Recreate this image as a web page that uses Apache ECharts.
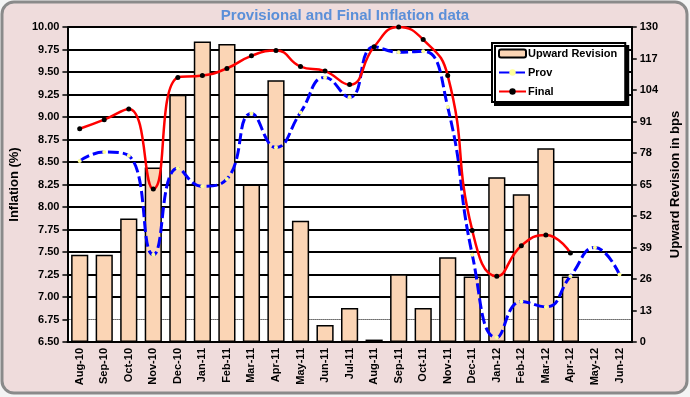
<!DOCTYPE html>
<html>
<head>
<meta charset="utf-8">
<script src="https://cdn.jsdelivr.net/npm/echarts@6/dist/echarts.min.js"></script>
<style>
  html, body { margin: 0; padding: 0; background: #f4f4f4; }
  #chart { width: 690px; height: 397px; }
</style>
</head>
<body>
<div id="chart"></div>
<script>
// 月份（横轴）
const months = ['Aug-10','Sep-10','Oct-10','Nov-10','Dec-10','Jan-11','Feb-11','Mar-11','Apr-11','May-11','Jun-11','Jul-11',
                'Aug-11','Sep-11','Oct-11','Nov-11','Dec-11','Jan-12','Feb-12','Mar-12','Apr-12','May-12','Jun-12'];
// 上调幅度（bps，右轴）
const upwardRevision = [36, 36, 51, 72, 102, 124, 123, 65, 108, 50, 7, 14, 1, 28, 14, 35, 27, 68, 61, 80, 27, null, null];
// 初值通胀（%）
const provInflation = [8.51, 8.61, 8.57, 7.47, 8.43, 8.23, 8.31, 9.04, 8.66, 9.05, 9.44, 9.22,
                       9.78, 9.72, 9.73, 9.11, 7.47, 6.55, 6.95, 6.89, 7.23, 7.55, 7.25];
// 终值通胀（%）
const finalInflation = [8.87, 8.97, 9.09, 8.20, 9.44, 9.46, 9.54, 9.68, 9.74, 9.56, 9.51, 9.36,
                        9.78, 10.00, 9.86, 9.46, 7.74, 7.23, 7.57, 7.69, 7.49, null, null];

const font = '"Liberation Sans Narrow", "Arial Narrow", Arial, "Liberation Sans", sans-serif';
const lblStyle = { color: '#000', fontWeight: 'bold', fontSize: 11, fontFamily: font };

// 左轴网格线：6.75 那条用虚线单独画，其余为黑色实线
const gridColors = [];
for (let i = 0; i <= 14; i++) gridColors.push(i === 1 ? 'transparent' : '#000');

const chart = echarts.init(document.getElementById('chart'));
chart.setOption({
    animation: false,
    graphic: [{
        type: 'rect', z: -10, silent: true,
        shape: { x: 2, y: 2, width: 685, height: 391, r: 12 },
        style: { fill: '#efdcdc', stroke: '#8a8a8a', lineWidth: 3 }
    }],
    title: {
        text: 'Provisional and Final Inflation data', left: 'center', top: 3,
        textStyle: { color: '#5b8fd8', fontSize: 15, fontWeight: 'bold', fontFamily: 'Arial, "Liberation Sans", sans-serif' }
    },
    legend: {
        orient: 'vertical', left: 492, top: 43, padding: [5, 8, 5, 6], itemGap: 8,
        itemWidth: 27, itemHeight: 8,
        backgroundColor: '#fff', borderColor: '#000', borderWidth: 2,
        shadowColor: '#000', shadowOffsetX: 3, shadowOffsetY: 3, shadowBlur: 0,
        textStyle: { color: '#000', fontWeight: 'bold', fontSize: 11, fontFamily: font, padding: [0, 0, 0, -3] },
        data: ['Upward Revision', 'Prov', 'Final']
    },
    grid: { left: 53, right: 52, top: 27, bottom: 55, show: true, backgroundColor: '#fff', borderWidth: 0 },
    xAxis: {
        type: 'category', data: months,
        axisLine: { lineStyle: { color: '#000', width: 2 } },
        axisTick: { length: 4, lineStyle: { color: '#000', width: 1.5 } },
        axisLabel: Object.assign({ rotate: 90, margin: 6, interval: 0 }, lblStyle)
    },
    yAxis: [{
        type: 'value', min: 6.5, max: 10, interval: 0.25,
        name: 'Inflation (%)', nameLocation: 'middle', nameGap: 31, nameRotate: 90,
        nameTextStyle: { color: '#000', fontWeight: 'bold', fontSize: 13, fontFamily: font },
        axisLine: { show: true, lineStyle: { color: '#000', width: 2 } },
        axisTick: { show: true, length: 5, lineStyle: { color: '#000', width: 1.5 } },
        axisLabel: Object.assign({ margin: 8, formatter: v => v.toFixed(2) }, lblStyle),
        splitLine: { show: true, lineStyle: { color: gridColors, width: 2 } }
    }, {
        type: 'value', min: 0, max: 130, interval: 13,
        name: 'Upward Revision in bps', nameLocation: 'middle', nameGap: 33, nameRotate: 90,
        nameTextStyle: { color: '#000', fontWeight: 'bold', fontSize: 13, fontFamily: font },
        axisLine: { show: true, lineStyle: { color: '#000', width: 2 } },
        axisTick: { show: true, length: 5, lineStyle: { color: '#000', width: 1.5 } },
        axisLabel: Object.assign({ margin: 8 }, lblStyle),
        splitLine: { show: false }
    }],
    series: [{
        name: 'Upward Revision', type: 'bar', yAxisIndex: 1, data: upwardRevision,
        barWidth: '70%',
        itemStyle: { color: '#fbd5b5', borderColor: '#000', borderWidth: 1.5 }
    }, {
        name: 'Prov', type: 'line', data: provInflation, smooth: 0.5,
        lineStyle: { color: '#0000ff', width: 3, type: [11, 4] },
        itemStyle: { color: '#ffff99' },
        symbol: 'circle', symbolSize: 4, showAllSymbol: true, z: 3
    }, {
        name: 'Final', type: 'line', data: finalInflation, smooth: 0.5,
        lineStyle: { color: '#ff0000', width: 2.5 },
        itemStyle: { color: '#000' },
        symbol: 'circle', symbolSize: 5, showAllSymbol: true, z: 4,
        // 6.75 处的点线
        markLine: {
            silent: true, symbol: 'none', label: { show: false }, z: 1,
            lineStyle: { color: '#000', type: 'dotted', width: 1 },
            data: [{ yAxis: 6.75 }]
        }
    }]
});
</script>
</body>
</html>
